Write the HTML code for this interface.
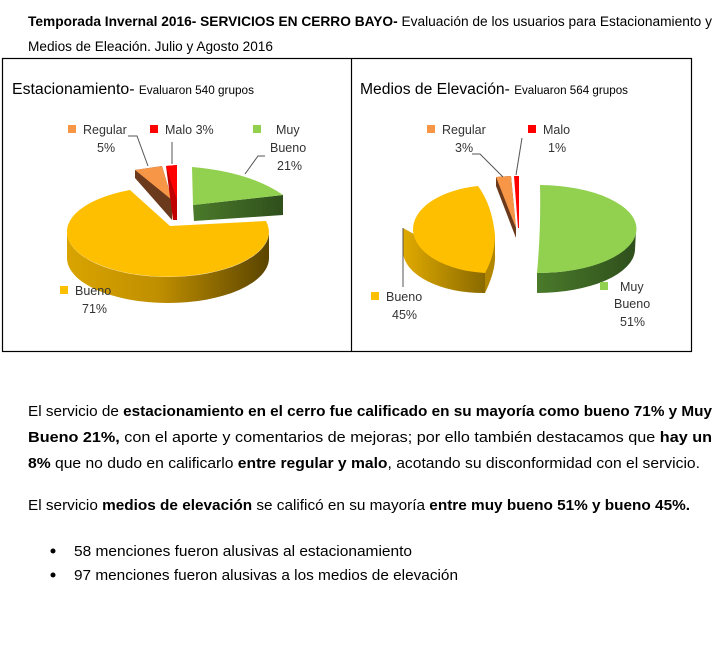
<!DOCTYPE html>
<html><head><meta charset="utf-8"><style>
html,body{margin:0;padding:0;background:#fff;}
svg{display:block;font-family:"Liberation Sans",sans-serif;}
</style></head><body>
<svg width="718" height="659" viewBox="0 0 718 659" xmlns="http://www.w3.org/2000/svg">
<defs>
<linearGradient id="gside" x1="0" x2="1" y1="0" y2="0">
<stop offset="0" stop-color="#d9a400"/><stop offset="0.45" stop-color="#c08f00"/><stop offset="1" stop-color="#5a4400"/>
</linearGradient>
<linearGradient id="gside2" x1="0" x2="1" y1="0" y2="0">
<stop offset="0" stop-color="#e0aa00"/><stop offset="1" stop-color="#8a6a00"/>
</linearGradient>
<linearGradient id="grn" x1="0" x2="1" y1="0" y2="0">
<stop offset="0" stop-color="#4a7a2a"/><stop offset="1" stop-color="#2f4f1c"/>
</linearGradient>
</defs>
<text x="28" y="26" font-size="13.5" textLength="684" lengthAdjust="spacingAndGlyphs"><tspan font-weight="bold">Temporada Invernal 2016- SERVICIOS EN CERRO BAYO-</tspan> Evaluación de los usuarios para Estacionamiento y</text>
<text x="28" y="51" font-size="13.5" textLength="245" lengthAdjust="spacingAndGlyphs">Medios de Eleación. Julio y Agosto 2016</text>
<rect x="2.5" y="58.5" width="689" height="293" fill="none" stroke="#000" stroke-width="1.2"/>
<line x1="351.5" y1="58" x2="351.5" y2="352" stroke="#000" stroke-width="1.2"/>
<text x="12" y="94" font-size="15.5" textLength="242" lengthAdjust="spacingAndGlyphs">Estacionamiento- <tspan font-size="11.5">Evaluaron 540 grupos</tspan></text>
<text x="360" y="94" font-size="15.5" textLength="268" lengthAdjust="spacingAndGlyphs">Medios de Elevación- <tspan font-size="11.5">Evaluaron 564 grupos</tspan></text>

<!-- LEFT PIE -->
<path d="M67,232 A101,45 0 0 0 269,232 L269,258 A101,45 0 0 1 67,258 Z" fill="url(#gside)"/>
<path d="M170,226 L130,190 A101,45 0 1 0 266,221 Z" fill="#fdbf00"/>
<!-- green -->
<path d="M193,205 L283,195 L283,215 L194,221 Z" fill="url(#grn)"/>
<path d="M192,167 Q250,172 283,195 L193,205 Z" fill="#92d050"/>
<!-- regular -->
<path d="M135,170 L162,166 L172,200 L172,220 L135,178 Z" fill="#6b3a1c"/>
<path d="M135,170 L162,166 L172,200 Z" fill="#f79646"/>
<!-- malo -->
<path d="M166,166 L177,165 L177,220 L173,220 Z" fill="#c00000"/>
<path d="M166,166 L177,165 L177,200 Z" fill="#ff0000"/>
<polyline points="128,136 137,136 148,166" fill="none" stroke="#555" stroke-width="1"/>
<line x1="172" y1="142" x2="172" y2="164" stroke="#555" stroke-width="1"/>
<polyline points="265,156 258,156 245,174" fill="none" stroke="#555" stroke-width="1"/>
<g font-size="12.5" fill="#333">
<rect x="68" y="125" width="8" height="8" fill="#f79646"/><text x="83" y="134">Regular</text><text x="97" y="152">5%</text>
<rect x="150" y="125" width="8" height="8" fill="#ff0000"/><text x="165" y="134">Malo 3%</text>
<rect x="253" y="125" width="8" height="8" fill="#92d050"/><text x="276" y="134">Muy</text><text x="270" y="152">Bueno</text><text x="277" y="170">21%</text>
<rect x="60" y="286" width="8" height="8" fill="#fdbf00"/><text x="75" y="295">Bueno</text><text x="82" y="313">71%</text>
</g>

<!-- RIGHT PIE -->
<path d="M403,228 L403,252 A80,42 0 0 0 485,293 L485,273 Z" fill="url(#gside2)"/>
<path d="M485,273 L485,293 Q496,270 495,255 L495,235 Z" fill="#b38600"/>
<path d="M478,186 Q492,205 495,235 Q495,255 485,273 A80,44 0 0 1 478,186 Z" fill="#fdbf00"/>
<path d="M537,273 L537,293 A98,44 0 0 0 635,250 L636,230 A98,44 0 0 1 537,273 Z" fill="url(#grn)"/>
<path d="M540,185 A98,44 0 0 1 537,273 Q541,230 540,185 Z" fill="#92d050"/>
<path d="M496,177 L511,176 L516,228 L516,238 L496,186 Z" fill="#6b3a1c"/>
<path d="M496,177 L511,176 L516,228 Z" fill="#f79646"/>
<path d="M514,176 L519,176 L519,228 L518,228 Z" fill="#ff0000"/>
<polyline points="472,154 480,154 503,177" fill="none" stroke="#555" stroke-width="1"/>
<line x1="522" y1="138" x2="516" y2="175" stroke="#555" stroke-width="1"/>
<line x1="403" y1="228" x2="403" y2="287" stroke="#555" stroke-width="1"/>
<g font-size="12.5" fill="#333">
<rect x="427" y="125" width="8" height="8" fill="#f79646"/><text x="442" y="134">Regular</text><text x="455" y="152">3%</text>
<rect x="528" y="125" width="8" height="8" fill="#ff0000"/><text x="543" y="134">Malo</text><text x="548" y="152">1%</text>
<rect x="371" y="292" width="8" height="8" fill="#fdbf00"/><text x="386" y="301">Bueno</text><text x="392" y="319">45%</text>
<rect x="600" y="282" width="8" height="8" fill="#92d050"/><text x="620" y="291">Muy</text><text x="614" y="308">Bueno</text><text x="620" y="326">51%</text>
</g>

<g font-size="15" fill="#000">
<text x="28" y="416" textLength="684" lengthAdjust="spacingAndGlyphs">El servicio de <tspan font-weight="bold">estacionamiento en el cerro fue calificado en su mayoría como bueno 71% y Muy</tspan></text>
<text x="28" y="442" textLength="684" lengthAdjust="spacingAndGlyphs"><tspan font-weight="bold">Bueno 21%,</tspan>    con el aporte y comentarios de mejoras; por ello también destacamos que <tspan font-weight="bold">hay un</tspan></text>
<text x="28" y="468" textLength="672" lengthAdjust="spacingAndGlyphs"><tspan font-weight="bold">8%</tspan> que no dudo en calificarlo <tspan font-weight="bold">entre regular y malo</tspan>, acotando su disconformidad con el servicio.</text>
<text x="28" y="510" textLength="662" lengthAdjust="spacingAndGlyphs">El servicio <tspan font-weight="bold">medios de elevación</tspan> se calificó en su mayoría <tspan font-weight="bold">entre muy bueno 51% y bueno 45%.</tspan></text>
<circle cx="53" cy="551" r="2.5"/>
<text x="74" y="556" textLength="338" lengthAdjust="spacingAndGlyphs">58 menciones fueron alusivas al estacionamiento</text>
<circle cx="53" cy="575" r="2.5"/>
<text x="74" y="580" textLength="384" lengthAdjust="spacingAndGlyphs">97 menciones fueron alusivas a los medios de elevación</text>
</g>
</svg>
</body></html>
